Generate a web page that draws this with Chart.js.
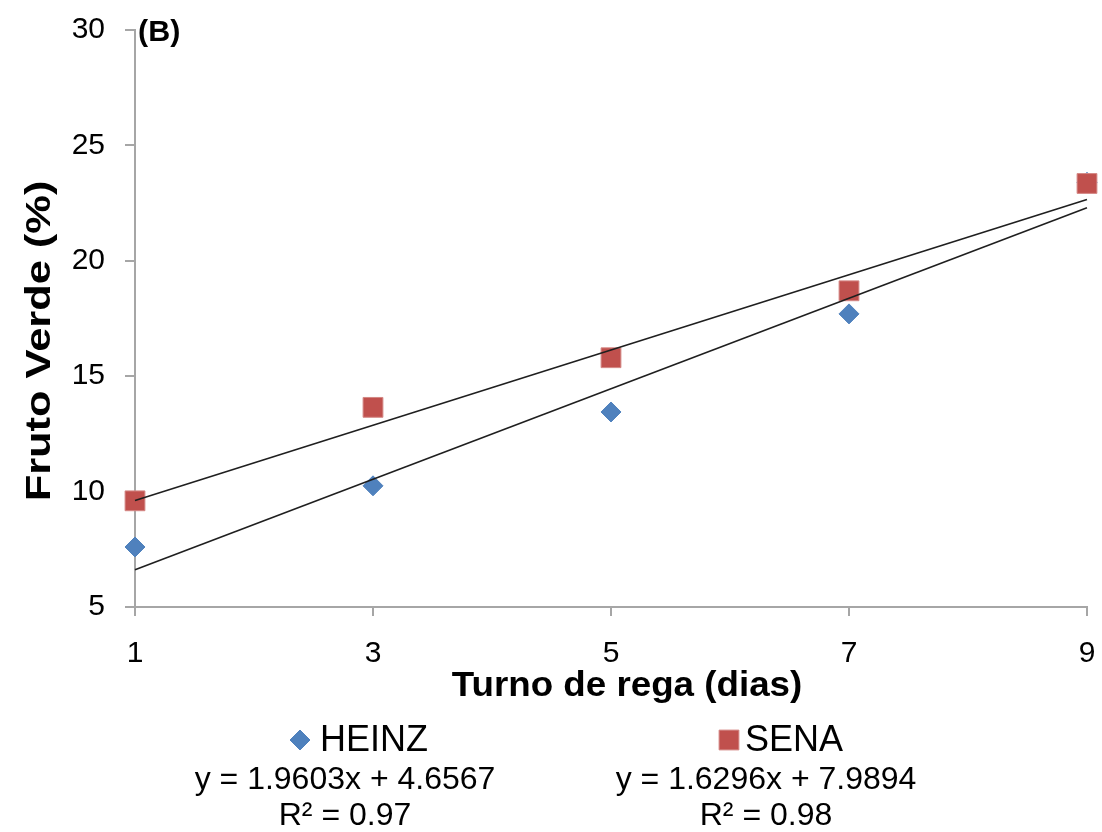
<!DOCTYPE html>
<html><head><meta charset="utf-8">
<script src="https://cdn.jsdelivr.net/npm/chart.js@4.4.1/dist/chart.umd.min.js"></script>
<style>html,body{margin:0;padding:0;background:#fff;overflow:hidden}#wrap{width:1102px;height:832px;position:relative}</style>
</head><body><div id="wrap"><canvas id="c" width="1102" height="832"></canvas></div>
<script>
const xValues = [1, 3, 5, 7, 9];
const heinzValues = [7.6, 10.25, 13.45, 17.7, 23.4];
const senaValues = [9.6, 13.65, 15.8, 18.7, 23.35];
const seriesNames = ['HEINZ', 'SENA'];
const trendSlopes = [1.9603, 1.6296];
const trendIntercepts = [4.6567, 7.9894];
const equationLabels = ['y = 1.9603x + 4.6567', 'y = 1.6296x + 7.9894'];
const r2Labels = ['R\u00B2 = 0.97', 'R\u00B2 = 0.98'];
const xTickValues = [1, 3, 5, 7, 9];
const yTickValues = [5, 10, 15, 20, 25, 30];
const xTitle = 'Turno de rega (dias)';
const yTitle = 'Fruto Verde (%)';
const panelLabel = '(B)';

const FONT = '"Liberation Sans", Arial, Helvetica, sans-serif';
const COLORS = { heinz: '#4F81BD', sena: '#C0504D', senaBorder: '#D48784', axis: '#a6a6a6', trend: '#1f1f1f' };

function trendPoints(i) {
  const xs = [xValues[0], xValues[xValues.length - 1]];
  return xs.map(x => ({ x: x, y: trendSlopes[i] * x + trendIntercepts[i] }));
}
function pts(vals) { return xValues.map((x, i) => ({ x: x, y: vals[i] })); }

function drawStretched(ctx, text, x, y, rot, font, sx) {
  ctx.save();
  ctx.translate(x, y);
  ctx.rotate(rot);
  ctx.scale(sx, 1);
  ctx.font = font;
  ctx.textAlign = 'center';
  ctx.textBaseline = 'middle';
  ctx.fillText(text, 0, 0);
  ctx.restore();
}

const decor = {
  id: 'decor',
  afterDraw(chart) {
    const ctx = chart.ctx;
    const ca = chart.chartArea;
    ctx.save();
    ctx.fillStyle = '#000';
    // panel label
    ctx.font = 'bold 29px ' + FONT;
    ctx.textAlign = 'left';
    ctx.textBaseline = 'middle';
    ctx.save();
    ctx.translate(ca.left + 3, ca.top + 3);
    ctx.scale(1.05, 1);
    ctx.fillText(panelLabel, 0, 0);
    ctx.restore();
    // axis titles
    drawStretched(ctx, xTitle, 627, 686, 0, 'bold 35px ' + FONT, 1.05);
    drawStretched(ctx, yTitle, 40, 341, -Math.PI / 2, 'bold 35px ' + FONT, 1.24);
    // legend
    const dsH = chart.data.datasets[3];
    const dsS = chart.data.datasets[2];
    const legend = [
      { ds: dsH, mx: 300, tx: 320, cx: 345, name: seriesNames[0], eq: equationLabels[0], r2: r2Labels[0], radius: 10 },
      { ds: dsS, mx: 729, tx: 745, cx: 766, name: seriesNames[1], eq: equationLabels[1], r2: r2Labels[1], radius: 14 }
    ];
    legend.forEach(l => {
      ctx.fillStyle = l.ds.backgroundColor;
      ctx.strokeStyle = l.ds.borderColor;
      ctx.lineWidth = 1;
      Chart.helpers.drawPoint(ctx, { pointStyle: l.ds.pointStyle, radius: l.radius, rotation: 0, borderWidth: 1 }, l.mx, 740);
      ctx.fillStyle = '#000';
      ctx.font = '36px ' + FONT;
      ctx.textAlign = 'left';
      ctx.textBaseline = 'middle';
      ctx.fillText(l.name, l.tx, 741);
      ctx.font = '32px ' + FONT;
      ctx.textAlign = 'center';
      ctx.fillText(l.eq, l.cx, 780);
      ctx.fillText(l.r2, l.cx, 816);
    });
    ctx.restore();
  }
};

new Chart(document.getElementById('c'), {
  type: 'scatter',
  data: {
    datasets: [
      { label: seriesNames[0] + ' trend', data: trendPoints(0), showLine: true, borderColor: COLORS.trend, borderWidth: 1.6, pointRadius: 0, fill: false, order: 0, clip: false },
      { label: seriesNames[1] + ' trend', data: trendPoints(1), showLine: true, borderColor: COLORS.trend, borderWidth: 1.6, pointRadius: 0, fill: false, order: 0, clip: false },
      { label: seriesNames[1], data: pts(senaValues), pointStyle: 'rect', pointRadius: 14, backgroundColor: COLORS.sena, borderColor: COLORS.senaBorder, borderWidth: 1, order: 1, clip: false },
      { label: seriesNames[0], data: pts(heinzValues), pointStyle: 'rectRot', pointRadius: 10, backgroundColor: COLORS.heinz, borderColor: COLORS.heinz, borderWidth: 1, order: 2, clip: false }
    ]
  },
  options: {
    responsive: false,
    animation: false,
    devicePixelRatio: 1,
    layout: { padding: { left: 0, top: 30, right: 14, bottom: 0 } },
    plugins: { legend: { display: false }, tooltip: { enabled: false } },
    scales: {
      x: {
        type: 'linear', min: 1, max: 9,
        afterBuildTicks: s => { s.ticks = xTickValues.map(v => ({ value: v })); },
        afterFit: s => { s.height = 225; s.paddingLeft = 0; s.paddingRight = 0; },
        grid: { drawOnChartArea: false, drawTicks: true, tickLength: 9, color: COLORS.axis, lineWidth: 2 },
        border: { color: COLORS.axis, width: 2 },
        ticks: { font: { size: 30, family: FONT }, color: '#000', padding: 20, maxRotation: 0 }
      },
      y: {
        type: 'linear', min: 5, max: 30,
        afterBuildTicks: s => { s.ticks = yTickValues.map(v => ({ value: v })); },
        afterFit: s => { s.width = 135; s.paddingTop = 0; s.paddingBottom = 0; },
        grid: { drawOnChartArea: false, drawTicks: true, tickLength: 10, color: COLORS.axis, lineWidth: 2 },
        border: { color: COLORS.axis, width: 2 },
        ticks: { font: { size: 30, family: FONT }, color: '#000', padding: 20 }
      }
    }
  },
  plugins: [decor]
});
</script>
</body></html>
